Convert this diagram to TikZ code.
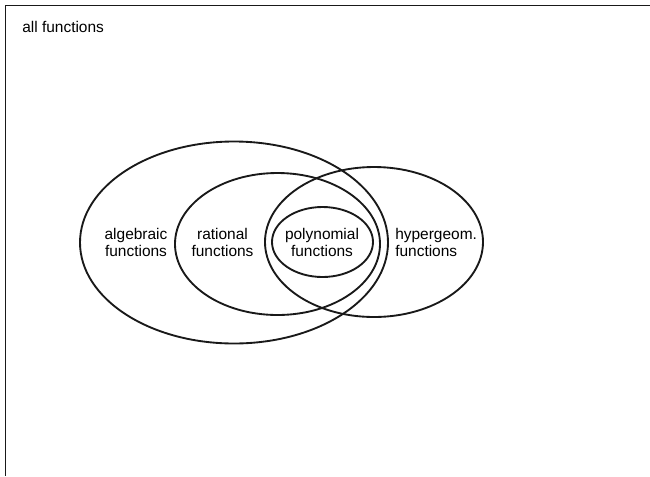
\documentclass[tikz,border=0pt]{standalone}
\usepackage{fontspec}
\setmainfont{Liberation Sans}
\usetikzlibrary{shapes.geometric}
\begin{document}
\begin{tikzpicture}[x=0.75pt,y=-0.75pt,
  setline/.style={draw=black!90, line width=1.4pt},
  setell/.style={setline, ellipse, inner sep=0pt},
  lbl/.style={font=\fontsize{11.6}{12.8}\selectfont, inner sep=0pt, align=center},
  lbll/.style={font=\fontsize{11.6}{12.8}\selectfont, inner sep=0pt, align=left}]
\useasboundingbox (0,0) rectangle (650,476);
\coordinate (tl) at (5.5,5.5);
\coordinate (tr) at (650,5.5);
\coordinate (bl) at (5.5,476);
\draw[setline] (tr) -- (tl) -- (bl);
\node[lbll, anchor=west] (all) at (22,27) {all functions};
\node[setell, minimum width=231pt, minimum height=151.5pt] (alg) at (234,242.5) {};
\node[setell, minimum width=153.75pt, minimum height=106.5pt] (rat) at (277.5,244) {};
\node[setell, minimum width=163.5pt, minimum height=112.5pt] (hyp) at (374,242) {};
\node[setell, minimum width=75.75pt, minimum height=52.5pt] (pol) at (322.5,242) {};
\node[lbl] (algt) at (136,242) {algebraic\\functions};
\node[lbl] (ratt) at (222.5,242) {rational\\functions};
\node[lbl] (polt) at (322,242) {polynomial\\functions};
\node[lbll, anchor=west] (hypt) at (395,242) {hypergeom.\\functions};
\end{tikzpicture}
\end{document}
